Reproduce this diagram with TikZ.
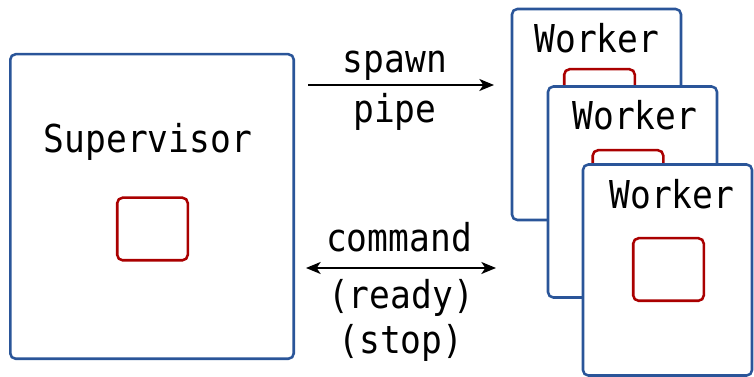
\documentclass[tikz,border=0pt]{standalone}
\usepackage{fontspec}
\newfontfamily\diagmono[FakeStretch=0.9]{DejaVu Sans Mono}
\usetikzlibrary{arrows.meta}
\definecolor{procblue}{HTML}{2A5599}
\definecolor{pipered}{HTML}{AA0000}
\tikzset{
  proc/.style={draw=procblue, fill=white, line width=1.9pt, rounded corners=4pt,
    inner sep=0pt, minimum width=126.75pt, minimum height=158.25pt},
  slot/.style={draw=pipered, fill=white, line width=1.9pt, rounded corners=4pt,
    inner sep=0pt, minimum width=52.9pt, minimum height=46.9pt},
  lbl/.style={font=\diagmono\fontsize{28.8pt}{30pt}\selectfont, anchor=base, inner sep=0pt},
  link/.style={line width=1.5pt, -{Stealth[length=11pt, width=9pt, inset=3pt]}},
  duplex/.style={line width=1.5pt, {Stealth[length=11pt, width=9pt, inset=3pt]}-{Stealth[length=11pt, width=9pt, inset=3pt]}}
}
\begin{document}
\begin{tikzpicture}[x=0.75pt, y=-0.75pt]
\useasboundingbox (0,0) rectangle (754,377);

% supervisor process
\node[proc, minimum width=212.6pt, minimum height=228.4pt] (sup) at (152,206.5) {};
\node[lbl] (suptxt) at (148,153) {Supervisor};
\node[slot] (supslot) at (152.5,229) {};

% stacked worker processes
\node[proc] (w1) at (596.5,114.5) {};
\node[lbl] (w1txt) at (597,53) {Worker};
\node[slot] (w1slot) at (599.5,100.5) {};

\node[proc] (w2) at (632.5,192) {};
\node[lbl] (w2txt) at (635,130) {Worker};
\node[slot] (w2slot) at (628,181.5) {};

\node[proc] (w3) at (667.5,270) {};
\node[lbl] (w3txt) at (672,209) {Worker};
\node[slot] (w3slot) at (668.5,269.5) {};

% spawn channel
\coordinate (spawnA) at (308,85);
\coordinate (spawnB) at (494,85);
\draw[link] (spawnA) -- (spawnB);
\node[lbl] (spawntxt) at (395,73) {spawn};
\node[lbl] (pipetxt) at (395,123) {pipe};

% command channel
\coordinate (cmdA) at (306,268);
\coordinate (cmdB) at (496,268);
\draw[duplex] (cmdA) -- (cmdB);
\node[lbl] (cmdtxt) at (399,252) {command};
\node[lbl] (readytxt) at (401,309) {(ready)};
\node[lbl] (stoptxt) at (401,354) {(stop)};
\end{tikzpicture}
\end{document}
